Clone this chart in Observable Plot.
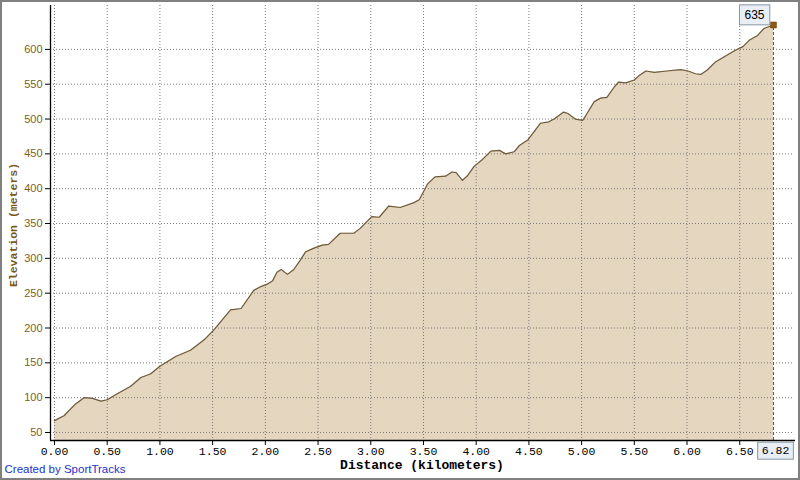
<!DOCTYPE html>
<html>
<head>
<meta charset="utf-8">
<script src="https://cdn.jsdelivr.net/npm/d3@7"></script>
<script src="https://cdn.jsdelivr.net/npm/@observablehq/plot@0.6"></script>
<style>
  html, body { margin: 0; padding: 0; background: #fff; }
  #chart svg { display: block; outline: 2px solid #808080; outline-offset: -2px; background: #fff; }
</style>
</head>
<body>
<div id="chart"></div>
<script>
// Distance (km) and elevation (m)
const distance = [0.00,0.09,0.20,0.28,0.36,0.44,0.50,0.60,0.72,0.82,0.91,1.00,1.15,1.29,1.42,1.51,1.67,1.77,1.89,1.95,
  2.02,2.07,2.11,2.15,2.21,2.27,2.33,2.38,2.45,2.54,2.60,2.71,2.84,2.90,3.01,3.08,3.17,3.28,3.41,3.46,
  3.54,3.61,3.71,3.77,3.81,3.87,3.92,3.98,4.06,4.14,4.22,4.28,4.36,4.41,4.49,4.55,4.61,4.69,4.75,4.83,
  4.87,4.94,5.01,5.04,5.12,5.18,5.24,5.31,5.35,5.42,5.50,5.55,5.61,5.69,5.81,5.94,6.01,6.08,6.13,6.19,
  6.27,6.35,6.45,6.53,6.59,6.67,6.73,6.82];
const elevation = [67,74,91,100,99,95,97,106,116,129,134,145,159,168,183,197,226,228,254,259,
  263,268,280,284,277,284,297,309,314,319,320,336,336,343,360,359,375,373,380,384,
  407,417,418,424,423,412,419,432,442,454,455,450,453,462,470,482,494,496,501,510,
  508,500,498,505,525,530,531,546,553,552,556,563,569,567,569,571,569,565,564,570,
  582,589,598,604,613,620,630,635];
const xTicks = [0,0.5,1,1.5,2,2.5,3,3.5,4,4.5,5,5.5,6,6.5];
const yTicks = [50,100,150,200,250,300,350,400,450,500,550,600];
const xTitle = "Distance (kilometers)";
const yTitle = "Elevation (meters)";
const credit = "Created by SportTracks";

const data = distance.map((d, i) => ({d, e: elevation[i]}));
const last = data[data.length - 1];
const yMin = 38.5, yMax = 663;
const xMin = -0.038, xMax = 7.01;
const fmt = d3.format(".2f");
const tipLabels = [String(last.e), fmt(last.d)];

const chart = Plot.plot({
  width: 800,
  height: 480,
  marginLeft: 50,
  marginRight: 7,
  marginTop: 5,
  marginBottom: 40,
  style: {background: "#fff"},
  x: {domain: [xMin, xMax]},
  y: {domain: [yMin, yMax]},
  marks: [
    Plot.areaY(data, {x: "d", y1: yMin, y2: "e", fill: "#e4d6bf"}),
    Plot.gridX(xTicks, {stroke: "#7a7a7a", strokeOpacity: 1, strokeDasharray: "1,2"}),
    Plot.gridY(yTicks, {stroke: "#7a7a7a", strokeOpacity: 1, strokeDasharray: "1,2"}),
    Plot.lineY(data, {x: "d", y: "e", stroke: "#6e5a3a", strokeWidth: 1.2}),
    Plot.ruleX([last], {x: "d", y1: yMin, y2: "e", stroke: "#555", strokeDasharray: "3,2"}),
    Plot.ruleY([yMin], {stroke: "#000", strokeWidth: 1.3, insetRight: -2}),
    Plot.ruleX([xMin], {stroke: "#000", strokeWidth: 1.3}),
    Plot.axisX(xTicks, {
      tickFormat: fmt, tickSize: 5, tickPadding: 1, stroke: "#000",
      fill: "#000", fontFamily: "Liberation Mono", fontSize: 11.5, label: null
    }),
    Plot.axisY(yTicks, {
      tickSize: 5, tickPadding: 3, stroke: "#000", fill: "#7a5f22",
      fontFamily: "Liberation Sans", fontSize: 11, label: null
    }),
    Plot.dot([last], {x: "d", y: "e", symbol: "square", r: 3.4, fill: "#8b5a10", stroke: "#6b4408", strokeWidth: 0.5}),
    Plot.text([last], {x: "d", y: "e", text: (p) => String(p.e), dx: -19, dy: -10,
      fontFamily: "Liberation Sans", fontSize: 12, fill: "#000"}),
    Plot.text([last], {x: "d", y: yMin, text: (p) => fmt(p.d), dx: 2, dy: 10,
      fontFamily: "Liberation Mono", fontSize: 11.5, fill: "#000"}),
    Plot.text([yTitle], {frameAnchor: "left", dx: -37, dy: 2, rotate: -90, textAnchor: "middle", fill: "#7a5a1a",
      fontFamily: "Liberation Mono", fontWeight: "bold", fontSize: 11.5}),
    Plot.text([xTitle], {frameAnchor: "bottom", dy: 28, fill: "#000",
      fontFamily: "Liberation Mono", fontWeight: "bold", fontSize: 13}),
    Plot.text([credit], {frameAnchor: "bottom-left", dx: -46, dy: 32, textAnchor: "start",
      fill: "#2233cc", fontFamily: "Liberation Sans", fontSize: 11.5})
  ]
});

document.getElementById("chart").appendChild(chart);

// draw label boxes behind the value tips
chart.querySelectorAll("text").forEach((t) => {
  const s = t.textContent;
  if (!tipLabels.includes(s) || t.closest('[aria-label^="x-axis"]')) return;
  const b = t.getBBox();
  if (!b.width) return;
  const padX = s.includes(".") ? 4 : 5, padY = s.includes(".") ? 2 : 3;
  const r = document.createElementNS("http://www.w3.org/2000/svg", "rect");
  r.setAttribute("x", b.x - padX);
  r.setAttribute("y", b.y - padY);
  r.setAttribute("width", b.width + 2 * padX);
  r.setAttribute("height", b.height + 2 * padY);
  r.setAttribute("fill", "#e8eef4");
  r.setAttribute("stroke", "#8796a3");
  r.setAttribute("stroke-width", "1");
  const tr = t.getAttribute("transform");
  if (tr) r.setAttribute("transform", tr);
  t.parentNode.insertBefore(r, t);
});
</script>
</body>
</html>
